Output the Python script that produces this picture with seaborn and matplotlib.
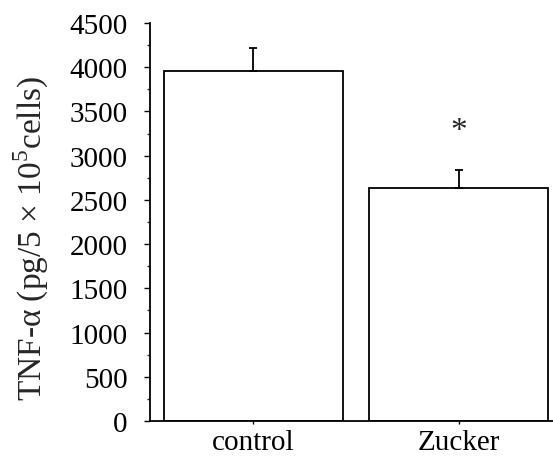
import matplotlib
matplotlib.use("Agg")
import matplotlib.pyplot as plt
import seaborn as sns
import pandas as pd
import numpy as np

categories = ["control", "Zucker"]
values = [3960, 2640]
errors = [260, 200]
sig_marks = ["", "*"]
sig_y = [None, 3280]

sns.set_theme(style="ticks")
plt.rcParams['font.family'] = ['Liberation Serif', 'DejaVu Serif']
plt.rcParams['mathtext.fontset'] = 'custom'
plt.rcParams['mathtext.rm'] = 'Liberation Serif'

df = pd.DataFrame({"group": categories, "value": values})

fig = plt.figure(figsize=(5.53, 4.60), dpi=100)
ax = fig.add_axes([0.271, 0.0826, 0.729, 0.8652])

sns.barplot(data=df, x="group", y="value", ax=ax, color="white",
            edgecolor="black", linewidth=1.3, width=0.874, errorbar=None)

x = np.arange(len(categories))
ax.errorbar(x, values, yerr=[np.zeros(len(errors)), errors], fmt="none",
            ecolor="black", elinewidth=1.3, capsize=3, capthick=1.3)

for xi, m, yv in zip(x, sig_marks, sig_y):
    if m:
        ax.text(xi, yv, m, ha="center", va="center", fontsize=24)

ax.set_xlim(-0.505, 1.46)
ax.set_ylim(0, 4500)
ax.set_yticks(np.arange(0, 4501, 500))
ax.set_yticks(np.arange(0, 4501, 250), minor=True)
ax.tick_params(axis="y", which="major", length=4, width=1, labelsize=21, direction="out", pad=12)
ax.tick_params(axis="y", which="minor", length=2.5, width=1, direction="out")
ax.tick_params(axis="x", length=2.5, width=1, labelsize=21, pad=3)
ax.set_xlabel("")
ax.set_ylabel("TNF-α (pg/5 × 10$^{5}$cells)", fontsize=24)
for s in ["top", "right"]:
    ax.spines[s].set_visible(False)
ax.spines["left"].set_linewidth(1.3)
ax.spines["bottom"].set_linewidth(1.3)
ax.spines["left"].set_color("black")
ax.spines["bottom"].set_color("black")
ax.tick_params(colors="black")
ax.yaxis.set_label_coords(-0.293, 0.462)
ax.yaxis.label.set_va("center")

fig.savefig("out.png", dpi=100)
